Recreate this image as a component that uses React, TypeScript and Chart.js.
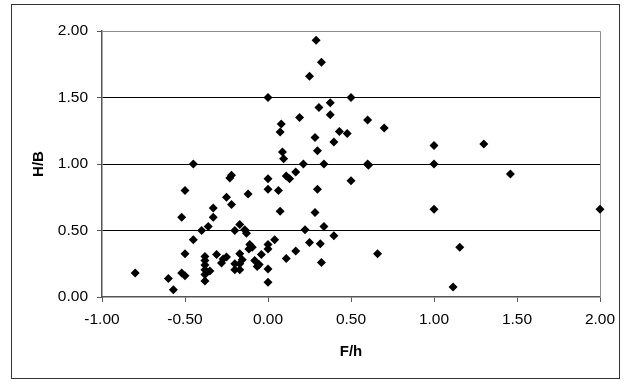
import React, { useEffect, useRef } from "react";
import { Chart, registerables } from "chart.js";

Chart.register(...registerables);

// F/h values of the observations
const fhValues: number[] = [
  -0.8, -0.6, -0.57, -0.52, -0.5, -0.5, -0.52, -0.5, -0.45, -0.45,
  -0.4, -0.36, -0.38, -0.38, -0.38, -0.38, -0.38, -0.38, -0.35, -0.33,
  -0.33, -0.31, -0.28, -0.27, -0.25, -0.25, -0.23, -0.22, -0.22, -0.2,
  -0.2, -0.2, -0.17, -0.17, -0.17, -0.17, -0.155, -0.14, -0.13, -0.12,
  -0.115, -0.11, -0.095, -0.08, -0.065, -0.053, -0.04, 0.0, 0.0, 0.0,
  0.0, 0.0, 0.0, 0.0, 0.04, 0.063, 0.073, 0.073, 0.08, 0.087,
  0.094, 0.11, 0.11, 0.13, 0.167, 0.167, 0.19, 0.213, 0.223, 0.25,
  0.25, 0.283, 0.283, 0.29, 0.298, 0.298, 0.307, 0.315, 0.322, 0.322,
  0.337, 0.337, 0.375, 0.375, 0.397, 0.397, 0.43, 0.477, 0.5, 0.5,
  0.6, 0.6, 0.605, 0.66, 0.7, 1.0, 1.0, 1.0, 1.115, 1.155,
  1.3, 1.46, 2.0,
];

// H/B values, same order as fhValues
const hbValues: number[] = [
  0.18, 0.14, 0.055, 0.18, 0.16, 0.325, 0.6, 0.8, 1.0, 0.43,
  0.5, 0.53, 0.305, 0.275, 0.24, 0.205, 0.17, 0.12, 0.195, 0.6,
  0.67, 0.32, 0.255, 0.285, 0.3, 0.75, 0.895, 0.915, 0.695, 0.5,
  0.25, 0.205, 0.545, 0.325, 0.25, 0.205, 0.28, 0.505, 0.48, 0.775,
  0.36, 0.395, 0.375, 0.275, 0.23, 0.245, 0.32, 0.89, 0.81, 1.5,
  0.395, 0.36, 0.21, 0.11, 0.43, 0.8, 0.645, 1.24, 1.3, 1.09,
  1.04, 0.29, 0.91, 0.89, 0.94, 0.345, 1.35, 1.0, 0.505, 0.41,
  1.66, 1.2, 0.635, 1.93, 1.1, 0.81, 1.425, 0.4, 0.26, 1.765,
  1.0, 0.53, 1.46, 1.37, 1.165, 0.46, 1.245, 1.23, 1.5, 0.875,
  1.33, 1.0, 0.99, 0.325, 1.27, 1.14, 1.0, 0.66, 0.075, 0.375,
  1.15, 0.925, 0.66,
];

const xTitle = "F/h";
const yTitle = "H/B";

const FONT = "'Liberation Sans', Arial, sans-serif";
const TICK_SIZE = 15.5;

// white background, outer frame, and the grey top/right edges of the plot area
const frame = {
  id: "frame",
  beforeDraw(chart: Chart) {
    const { ctx } = chart;
    ctx.save();
    ctx.fillStyle = "#ffffff";
    ctx.fillRect(0, 0, chart.width, chart.height);
    ctx.strokeStyle = "#333333";
    ctx.lineWidth = 1;
    ctx.strokeRect(11.5, 4.5, 608, 374);
    ctx.restore();
  },
  beforeDatasetsDraw(chart: Chart) {
    const { ctx, chartArea } = chart;
    ctx.save();
    ctx.strokeStyle = "#8c8c8c";
    ctx.lineWidth = 1;
    ctx.beginPath();
    ctx.moveTo(chartArea.left, Math.round(chartArea.top) + 0.5);
    ctx.lineTo(Math.round(chartArea.right) + 0.5, Math.round(chartArea.top) + 0.5);
    ctx.lineTo(Math.round(chartArea.right) + 0.5, chartArea.bottom);
    ctx.stroke();
    ctx.restore();
  },
};

export default function App() {
  const ref = useRef<HTMLCanvasElement | null>(null);

  useEffect(() => {
    if (!ref.current) return;
    const points = fhValues.map((x, i) => ({ x, y: hbValues[i] }));
    const chart = new Chart(ref.current, {
      type: "scatter",
      data: {
        datasets: [
          {
            data: points,
            clip: false,
            pointStyle: "rectRot",
            pointRadius: 4.5,
            pointBackgroundColor: "#000000",
            pointBorderColor: "#000000",
            pointBorderWidth: 0,
          },
        ],
      },
      plugins: [frame],
      options: {
        animation: false,
        responsive: false,
        maintainAspectRatio: false,
        layout: { padding: { top: 31, right: 29, left: 0, bottom: 0 } },
        plugins: {
          legend: { display: false },
          tooltip: { enabled: false },
        },
        scales: {
          x: {
            type: "linear",
            min: -1,
            max: 2,
            afterFit(scale: any) {
              scale.height = 84;
            },
            ticks: {
              stepSize: 0.5,
              padding: 8,
              color: "#000000",
              font: { family: FONT, size: TICK_SIZE },
              callback: (v: any) => Number(v).toFixed(2),
            },
            grid: {
              drawOnChartArea: false,
              tickLength: 5,
              tickColor: "#555555",
            },
            border: { display: true, color: "#555555", width: 1.5 },
            title: {
              display: true,
              text: xTitle,
              color: "#000000",
              font: { family: FONT, size: 15, weight: "bold" },
              padding: { top: 0, bottom: 20 },
            },
          },
          y: {
            type: "linear",
            min: 0,
            max: 2,
            afterFit(scale: any) {
              scale.width = 102;
            },
            ticks: {
              stepSize: 0.5,
              padding: 9,
              color: "#000000",
              font: { family: FONT, size: TICK_SIZE },
              callback: (v: any) => Number(v).toFixed(2),
            },
            grid: {
              drawOnChartArea: true,
              tickLength: 5,
              color: (c: any) =>
                c.tick && (c.tick.value === 2 || c.tick.value === 0)
                  ? "rgba(0,0,0,0)"
                  : "#000000",
              tickColor: "#555555",
              lineWidth: 1,
            },
            border: { display: true, color: "#555555", width: 1.5 },
            title: {
              display: true,
              text: yTitle,
              color: "#000000",
              font: { family: FONT, size: 15, weight: "bold" },
              padding: { top: 30, bottom: 0 },
            },
          },
        },
      },
    });
    return () => chart.destroy();
  }, []);

  return (
    <div style={{ position: "absolute", left: 0, top: 0, width: 629, height: 381 }}>
      <canvas ref={ref} width={629} height={381} style={{ width: 629, height: 381, display: "block" }} />
    </div>
  );
}
